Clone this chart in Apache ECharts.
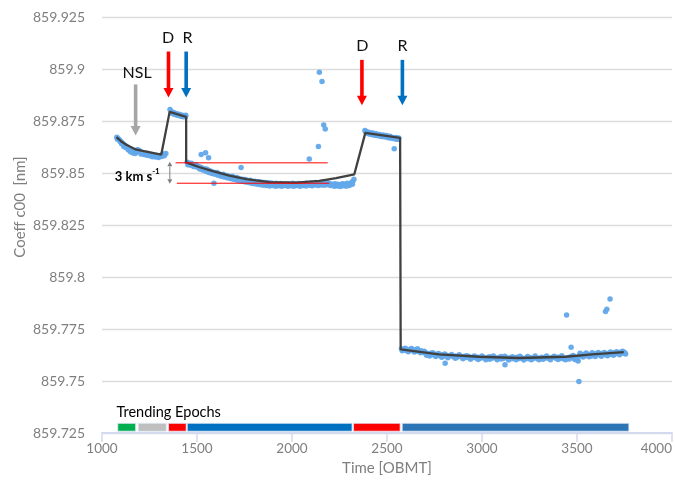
<!DOCTYPE html>
<html><head><meta charset="utf-8">
<script src="https://cdn.jsdelivr.net/npm/echarts@6/dist/echarts.min.js"></script>
<style>html,body{margin:0;padding:0;background:#fff}#c{width:675px;height:481px}</style>
</head><body><div id="c"></div>
<script>
// ---------- DATA ----------
const xTicks = [1000, 1500, 2000, 2500, 3000, 3500, 4000];
const yTicks = [859.725, 859.75, 859.775, 859.8, 859.825, 859.85, 859.875, 859.9, 859.925];

// fitted trend line
const fitX = [1076, 1100, 1128, 1181, 1190, 1312, 1356, 1443, 1443, 1510, 1583, 1670, 1759, 1881, 2021, 2144, 2232, 2328, 2386, 2569, 2572, 2774, 2985, 3195, 3440, 3580, 3746];
const fitY = [859.8673, 859.8653, 859.8636, 859.8612, 859.8616, 859.8589, 859.8794, 859.8770, 859.8551, 859.8529, 859.8509, 859.8488, 859.8471, 859.8456, 859.8454, 859.8462, 859.8475, 859.8494, 859.8693, 859.8669, 859.7652, 859.7628, 859.7617, 859.7611, 859.7617, 859.7628, 859.7639];

// measured samples (per trending epoch)
const seg1 = [[1078,859.8672],[1084,859.8666],[1090,859.8660],[1095,859.8652],[1100,859.8650],[1106,859.8644],[1112,859.8640],[1118,859.8633],[1124,859.8631],[1130,859.8626],[1136,859.8620],[1142,859.8616],[1148,859.8610],[1154,859.8608],[1160,859.8603],[1166,859.8605],[1172,859.8600],[1178,859.8602],[1186,859.8612],[1194,859.8609],[1200,859.8604],[1208,859.8600],[1215,859.8598],[1222,859.8594],[1230,859.8592],[1238,859.8595],[1246,859.8588],[1254,859.8590],[1262,859.8584],[1270,859.8586],[1278,859.8582],[1286,859.8584],[1294,859.8580],[1302,859.8583],[1310,859.8585],[1318,859.8588],[1324,859.8592],
  [1081,859.8662],[1093,859.8657],[1103,859.8641],[1115,859.8628],[1127,859.8621],[1139,859.8611],[1151,859.8601],[1163,859.8596],[1175,859.8594],[1190,859.8603],[1205,859.8592],[1220,859.8589],[1235,859.8585],[1250,859.8583],[1265,859.8578],[1282,859.8577],[1298,859.8575],[1314,859.8579],[1328,859.8583],[1336,859.8594]];
const seg2 = [[1358,859.8805],[1364,859.8796],[1370,859.8792],[1376,859.8790],[1382,859.8788],[1388,859.8785],[1394,859.8784],[1400,859.8781],[1406,859.8782],[1412,859.8779],[1418,859.8778],[1424,859.8776],[1430,859.8777],[1436,859.8775],[1441,859.8778],
  [1367,859.8787],[1379,859.8783],[1391,859.8779],[1403,859.8776],[1415,859.8773],[1427,859.8771],[1439,859.8770]];
const seg3 = [[1448,859.8552],[1455,859.8548],[1462,859.8545],[1470,859.8547],[1478,859.8541],[1486,859.8538],[1494,859.8540],[1502,859.8534],[1510,859.8530],[1518,859.8528],[1522,859.8589],[1526,859.8524],[1534,859.8521],[1542,859.8518],[1545,859.8597],[1550,859.8520],[1558,859.8514],[1561,859.8573],[1566,859.8511],[1574,859.8507],[1582,859.8505],[1589,859.8451],[1590,859.8503],[1598,859.8500],[1606,859.8502],[1614,859.8496],[1622,859.8493],[1630,859.8490],[1638,859.8494],[1646,859.8488],[1654,859.8485],[1662,859.8487],[1670,859.8482],[1678,859.8480],[1686,859.8484],[1694,859.8478],[1702,859.8476],[1710,859.8479],[1718,859.8473],[1726,859.8471],[1732,859.8527],[1740,859.8470],[1748,859.8467],[1756,859.8469],[1764,859.8464],[1772,859.8462],[1780,859.8465],[1788,859.8460],[1796,859.8458],[1804,859.8461],[1812,859.8457],[1820,859.8455],[1828,859.8458],[1836,859.8453],[1844,859.8456],[1852,859.8451],[1860,859.8454],[1868,859.8450],[1876,859.8453],[1884,859.8448],[1892,859.8452],[1900,859.8449],[1908,859.8446],[1916,859.8451],[1924,859.8447],[1932,859.8444],[1940,859.8450],[1948,859.8446],[1956,859.8443],[1964,859.8449],[1972,859.8445],[1980,859.8448],[1988,859.8442],[1996,859.8447],[2004,859.8451],[2012,859.8445],[2020,859.8448],[2028,859.8444],[2036,859.8450],[2044,859.8446],[2052,859.8449],[2060,859.8443],[2068,859.8447],[2076,859.8451],[2084,859.8446],[2091,859.8568],[2092,859.8449],[2100,859.8452],[2108,859.8447],[2116,859.8450],[2124,859.8454],[2132,859.8449],[2139,859.8627],[2140,859.8451],[2144,859.8984],[2148,859.8455],[2156,859.8452],[2158,859.8940],[2164,859.8457],[2167,859.8731],[2172,859.8454],[2175,859.8712],[2180,859.8458],[2190,859.8452],[2200,859.8449],[2210,859.8446],[2218,859.8444],[2226,859.8448],[2234,859.8443],[2242,859.8446],[2250,859.8441],[2258,859.8445],[2266,859.8449],[2274,859.8444],[2282,859.8447],[2290,859.8451],[2298,859.8446],[2306,859.8450],[2314,859.8455],[2320,859.8460],[2326,859.8470],
  [1452,859.8540],[1466,859.8538],[1482,859.8531],[1498,859.8529],[1514,859.8519],[1530,859.8514],[1546,859.8509],[1562,859.8503],[1578,859.8498],[1594,859.8494],[1610,859.8489],[1626,859.8485],[1642,859.8481],[1658,859.8477],[1674,859.8474],[1690,859.8470],[1706,859.8467],[1722,859.8463],[1738,859.8460],[1754,859.8457],[1770,859.8454],[1786,859.8451],[1802,859.8449],[1818,859.8446],[1834,859.8444],[1850,859.8441],[1866,859.8440],[1882,859.8438],[1898,859.8440],[1914,859.8437],[1930,859.8439],[1946,859.8436],[1962,859.8440],[1978,859.8437],[1994,859.8439],[2010,859.8436],[2026,859.8440],[2042,859.8437],[2058,859.8440],[2074,859.8438],[2090,859.8441],[2106,859.8439],[2122,859.8442],[2138,859.8440],[2154,859.8443],[2170,859.8441],[2186,859.8444],[2202,859.8440],[2222,859.8436],[2238,859.8438],[2254,859.8435],[2270,859.8439],[2286,859.8437],[2302,859.8440],[2318,859.8446]];
const seg4 = [[2384,859.8705],[2390,859.8700],[2396,859.8697],[2402,859.8694],[2408,859.8695],[2414,859.8691],[2420,859.8689],[2426,859.8692],[2432,859.8688],[2438,859.8686],[2444,859.8689],[2450,859.8684],[2456,859.8682],[2462,859.8685],[2468,859.8681],[2474,859.8679],[2480,859.8683],[2486,859.8678],[2492,859.8676],[2498,859.8680],[2504,859.8675],[2510,859.8673],[2516,859.8677],[2522,859.8672],[2528,859.8670],[2538,859.8617],[2544,859.8671],[2550,859.8668],[2556,859.8666],[2562,859.8669],
  [2387,859.8698],[2399,859.8690],[2411,859.8687],[2423,859.8684],[2435,859.8682],[2447,859.8680],[2459,859.8678],[2471,859.8676],[2483,859.8675],[2495,859.8673],[2507,859.8670],[2519,859.8668],[2531,859.8666],[2547,859.8663],[2559,859.8662]];
const seg5 = [[2576,859.7655],[2584,859.7650],[2592,859.7653],[2600,859.7647],[2608,859.7652],[2616,859.7646],[2624,859.7649],[2632,859.7654],[2640,859.7645],[2648,859.7650],[2656,859.7643],[2664,859.7648],[2672,859.7641],[2680,859.7646],[2688,859.7639],[2696,859.7644],[2704,859.7636],[2712,859.7632],[2720,859.7629],[2728,859.7634],[2736,859.7627],[2744,859.7631],[2752,859.7625],[2760,859.7629],[2768,859.7623],[2776,859.7627],[2784,859.7621],[2792,859.7626],[2800,859.7620],[2806,859.7586],[2812,859.7624],[2824,859.7619],[2836,859.7623],[2848,859.7617],[2860,859.7621],[2872,859.7616],[2884,859.7620],[2896,859.7614],[2908,859.7619],[2920,859.7613],[2932,859.7618],[2944,859.7612],[2956,859.7616],[2968,859.7611],[2980,859.7615],[2992,859.7610],[3004,859.7614],[3016,859.7609],[3028,859.7613],[3040,859.7617],[3052,859.7610],[3064,859.7614],[3076,859.7608],[3088,859.7613],[3100,859.7618],[3112,859.7609],[3121,859.7579],[3124,859.7614],[3136,859.7608],[3148,859.7612],[3160,859.7607],[3172,859.7611],[3184,859.7615],[3196,859.7608],[3208,859.7612],[3220,859.7606],[3232,859.7611],[3244,859.7607],[3256,859.7612],[3268,859.7608],[3280,859.7613],[3292,859.7607],[3304,859.7611],[3316,859.7615],[3328,859.7609],[3340,859.7613],[3352,859.7608],[3364,859.7612],[3376,859.7616],[3388,859.7610],[3400,859.7614],[3412,859.7609],[3424,859.7613],[3432,859.7606],[3440,859.7611],[3445,859.7818],[3452,859.7608],[3460,859.7614],[3469,859.7663],[3474,859.7620],[3480,859.7612],[3488,859.7604],[3494,859.7610],[3500,859.7601],[3506,859.7597],[3510,859.7498],[3512,859.7622],[3520,859.7626],[3528,859.7619],[3536,859.7628],[3544,859.7622],[3552,859.7630],[3560,859.7624],[3568,859.7627],[3576,859.7621],[3584,859.7629],[3592,859.7624],[3600,859.7631],[3608,859.7626],[3616,859.7630],[3624,859.7625],[3632,859.7632],[3640,859.7627],[3648,859.7631],[3650,859.7834],[3656,859.7626],[3657,859.7845],[3664,859.7633],[3672,859.7628],[3674,859.7894],[3680,859.7634],[3688,859.7629],[3696,859.7636],[3704,859.7631],[3712,859.7637],[3720,859.7633],[3728,859.7639],[3736,859.7634],[3744,859.7640],[3752,859.7636],
  [2580,859.7646],[2596,859.7658],[2612,859.7641],[2628,859.7657],[2644,859.7640],[2660,859.7655],[2676,859.7636],[2692,859.7638],[2708,859.7624],[2724,859.7621],[2740,859.7636],[2756,859.7618],[2772,859.7633],[2788,859.7615],[2804,859.7630],[2820,859.7612],[2840,859.7628],[2860,859.7610],[2880,859.7626],[2900,859.7607],[2920,859.7622],[2940,859.7605],[2960,859.7621],[2980,859.7604],[3000,859.7620],[3020,859.7603],[3040,859.7605],[3060,859.7620],[3080,859.7602],[3100,859.7606],[3120,859.7619],[3140,859.7601],[3160,859.7617],[3180,859.7603],[3200,859.7619],[3220,859.7601],[3240,859.7618],[3260,859.7602],[3280,859.7620],[3300,859.7603],[3320,859.7605],[3340,859.7621],[3360,859.7602],[3380,859.7619],[3400,859.7604],[3420,859.7622],[3440,859.7603],[3460,859.7606],[3480,859.7623],[3500,859.7608],[3516,859.7634],[3532,859.7616],[3548,859.7635],[3564,859.7617],[3580,859.7636],[3596,859.7618],[3612,859.7638],[3628,859.7619],[3644,859.7637],[3660,859.7622],[3676,859.7640],[3692,859.7624],[3708,859.7641],[3724,859.7627],[3740,859.7643],[3756,859.7630]];

// trending epochs
const epochStart = [1083, 1191, 1350, 1449, 2324, 2580];
const epochEnd   = [1177, 1338, 1443, 2316, 2569, 3773];
const epochColors = ['#00b050', '#bfbfbf', '#ff0000', '#0070c0', '#ff0000', '#2e75b6'];

// 3 km/s reference levels
const refUpper = [[1387, 859.8549], [2188, 859.8549]];
const refLower = [[1394, 859.8451], [2196, 859.8451]];

// event arrows (time, top value, tip value)
const arrowX   = [1177, 1350, 1443, 2368, 2581];
const arrowTop = [859.8926, 859.9084, 859.9084, 859.9044, 859.9044];
const arrowTip = [859.8680, 859.8863, 859.8863, 859.8826, 859.8826];
const arrowColors = ['#a6a6a6', '#ff0000', '#0070c0', '#ff0000', '#0070c0'];
const arrowText = ['NSL', 'D', 'R', 'D', 'R'];
const arrowTextX = [1185, 1348, 1450, 2370, 2581];
const arrowTextY = [859.8983, 859.9151, 859.9151, 859.9111, 859.9111];

// ---------- CHART ----------
const FONT = 'Lato, "Open Sans", sans-serif';
const chart = echarts.init(document.getElementById('c'), null, {renderer: 'canvas'});
const epochData = epochStart.map((s, i) => [s, epochEnd[i], i]);
const allPts = seg1.concat(seg2, seg3, seg4, seg5);

chart.setOption({
  animation: false,
  backgroundColor: '#fff',
  grid: {left: 102, right: 2, top: 17, bottom: 43, containLabel: false},
  xAxis: {
    type: 'value', min: xTicks[0], max: xTicks[xTicks.length - 1], interval: 500,
    name: 'Time [OBMT]', nameLocation: 'middle', nameGap: 27,
    nameTextStyle: {color: '#7f7f7f', fontSize: 15, fontFamily: FONT},
    axisLine: {show: true, lineStyle: {color: '#d3d9ee', width: 2}},
    axisTick: {show: true, length: 9, lineStyle: {color: '#d3d9ee', width: 1.5}},
    axisLabel: {color: '#7f7f7f', fontSize: 13.5, fontFamily: FONT, margin: 9, alignMaxLabel: 'right',
      formatter: v => String(v)},
    splitLine: {show: false}
  },
  yAxis: {
    type: 'value', min: yTicks[0], max: yTicks[yTicks.length - 1], interval: 0.025,
    axisLine: {show: false}, axisTick: {show: false},
    axisLabel: {color: '#7f7f7f', fontSize: 14, fontFamily: FONT, margin: 17,
      formatter: v => String(parseFloat(v.toFixed(3)))},
    splitLine: {lineStyle: {color: '#dcdcdc', width: 1.3}}
  },
  series: [
    {
      type: 'scatter', data: allPts, symbolSize: 5.5,
      itemStyle: {color: '#62a8ea', opacity: 0.95}, z: 2
    },
    {
      type: 'line', data: fitX.map((x, i) => [x, fitY[i]]), showSymbol: false,
      lineStyle: {color: '#404040', width: 2.3}, z: 3
    },
    {
      type: 'line', data: refUpper, showSymbol: false,
      lineStyle: {color: '#ff0000', width: 1}, z: 4
    },
    {
      type: 'line', data: refLower, showSymbol: false,
      lineStyle: {color: '#ff0000', width: 1}, z: 4
    },
    {
      type: 'custom', data: epochData, z: 5, clip: false,
      renderItem: function (params, api) {
        const p0 = api.coord([api.value(0), 859.7297]);
        const p1 = api.coord([api.value(1), 859.7259]);
        return {
          type: 'rect',
          shape: {x: p0[0], y: p0[1], width: p1[0] - p0[0], height: p1[1] - p0[1]},
          style: {fill: epochColors[api.value(2)], stroke: '#dfe6f5', lineWidth: 0.8}
        };
      }
    }
  ]
});

// ---------- ANNOTATIONS ----------
function px(x, y) { return chart.convertToPixel({gridIndex: 0}, [x, y]); }
const g = [];
arrowX.forEach((x, i) => {
  const t = px(x, arrowTop[i]), e = px(x, arrowTip[i]);
  const headH = 9.5, headW = 10, shaftW = 3.6;
  g.push({type: 'rect', shape: {x: t[0] - shaftW / 2, y: t[1], width: shaftW, height: e[1] - t[1] - headH + 0.5},
    style: {fill: arrowColors[i]}, z: 10});
  g.push({type: 'polygon', shape: {points: [[e[0] - headW / 2, e[1] - headH], [e[0] + headW / 2, e[1] - headH], [e[0], e[1]]]},
    style: {fill: arrowColors[i]}, z: 10});
  const tp = px(arrowTextX[i], arrowTextY[i]);
  g.push({type: 'text', x: tp[0], y: tp[1], z: 10,
    style: {text: arrowText[i], fill: '#111', font: '16px ' + FONT, textAlign: 'center', textVerticalAlign: 'middle'}});
});
// 3 km/s double arrow
(function () {
  const a = px(1357, 859.8554), b = px(1357, 859.8448);
  const c = '#808080', h = 4.5, w = 5;
  g.push({type: 'line', shape: {x1: a[0], y1: a[1] + h, x2: b[0], y2: b[1] - h}, style: {stroke: c, lineWidth: 1}, z: 10});
  g.push({type: 'polygon', shape: {points: [[a[0], a[1]], [a[0] - w / 2, a[1] + h], [a[0] + w / 2, a[1] + h]]}, style: {fill: c}, z: 10});
  g.push({type: 'polygon', shape: {points: [[b[0], b[1]], [b[0] - w / 2, b[1] - h], [b[0] + w / 2, b[1] - h]]}, style: {fill: c}, z: 10});
  const lp = px(1067, 859.8490);
  g.push({type: 'text', x: lp[0], y: lp[1], z: 10,
    style: {text: '{a|3 km s}{b|-1}', textAlign: 'left', textVerticalAlign: 'middle',
      rich: {a: {fontSize: 13, fontWeight: 'bold', fontFamily: FONT, fill: '#000', lineHeight: 16, verticalAlign: 'bottom'},
             b: {fontSize: 8, fontWeight: 'bold', fontFamily: FONT, fill: '#000', lineHeight: 16, verticalAlign: 'top'}}}});
})();
// Trending Epochs title
const te = px(1076, 859.7350);
g.push({type: 'text', x: te[0], y: te[1], z: 10,
  style: {text: 'Trending Epochs', fill: '#000', font: '14.5px ' + FONT, textAlign: 'left', textVerticalAlign: 'middle'}});
// y axis title
g.push({type: 'text', x: 20, y: 207, rotation: Math.PI / 2, z: 10,
  style: {text: 'Coeff c00  [nm]', fill: '#7f7f7f', font: '15px ' + FONT, textAlign: 'center', textVerticalAlign: 'middle'}});
chart.setOption({graphic: g});
</script>
</body></html>
